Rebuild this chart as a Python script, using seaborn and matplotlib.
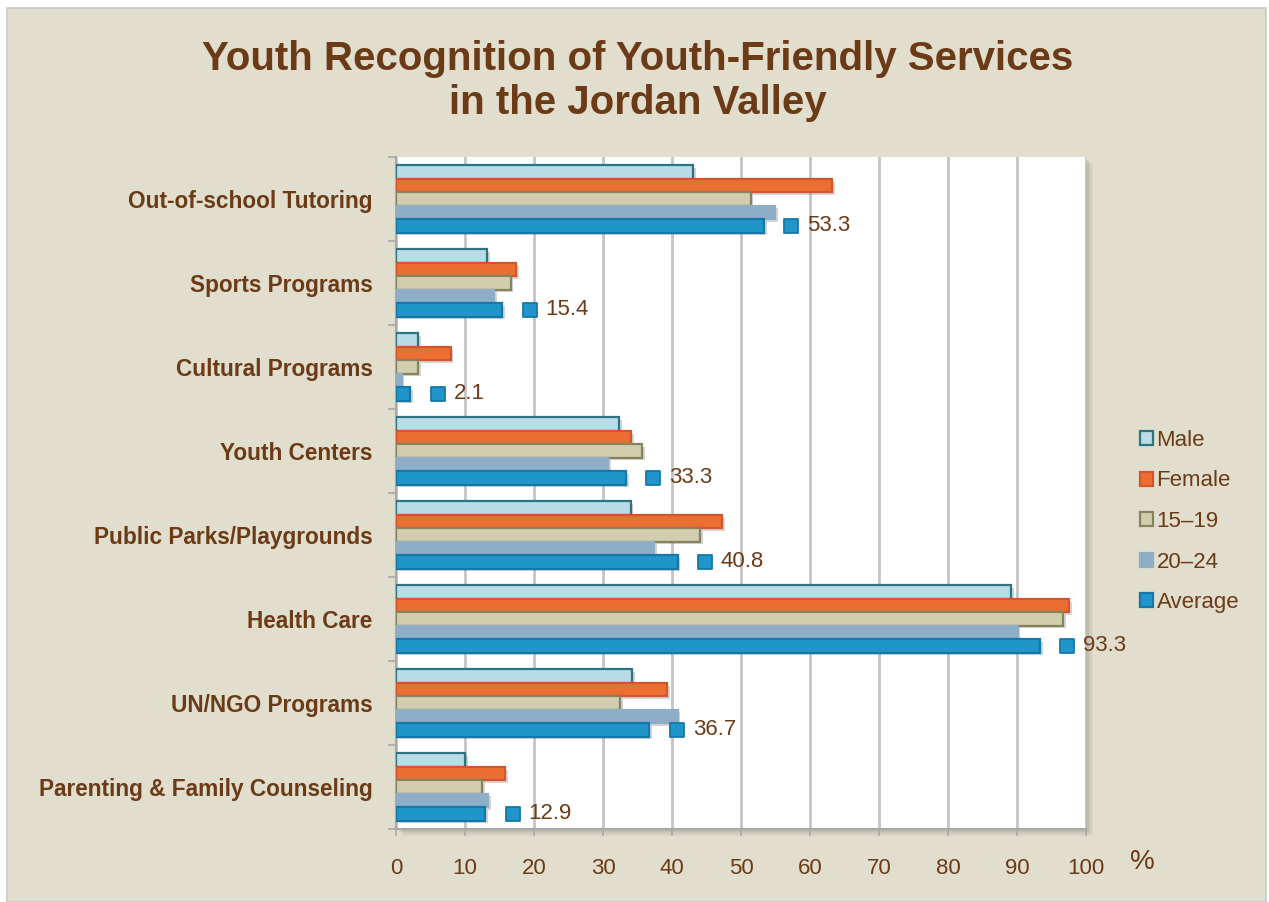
import numpy as np
import pandas as pd
import matplotlib
matplotlib.use("Agg")
import matplotlib.pyplot as plt
import matplotlib.patheffects as pe
from matplotlib.patches import Rectangle, Patch
import seaborn as sns

# ---- data ----
services = [
    "Out-of-school Tutoring",
    "Sports Programs",
    "Cultural Programs",
    "Youth Centers",
    "Public Parks/Playgrounds",
    "Health Care",
    "UN/NGO Programs",
    "Parenting & Family Counseling",
]
groups = ["Male", "Female", "15–19", "20–24", "Average"]
male = [43.1, 13.2, 3.2, 32.3, 34.0, 89.2, 34.2, 10.0]
female = [63.2, 17.4, 7.9, 34.1, 47.3, 97.5, 39.3, 15.8]
age_15_19 = [51.4, 16.6, 3.2, 35.7, 44.1, 96.7, 32.5, 12.5]
age_20_24 = [54.9, 14.2, 0.8, 30.7, 37.4, 90.1, 40.8, 13.3]
average = [53.3, 15.4, 2.1, 33.3, 40.8, 93.3, 36.7, 12.9]
x_ticks = [0, 10, 20, 30, 40, 50, 60, 70, 80, 90, 100]

# ---- style ----
BROWN = "#6B3A16"
BG = "#E1DECD"
fills = ["#B9DCE6", "#EB6E33", "#D1CDAF", "#8EADC7", "#1F95C9"]
edges = ["#2C7482", "#D4542B", "#85845C", "#8EADC7", "#1678A8"]

sns.set_theme(style="white")
plt.rcParams["font.family"] = ["Liberation Sans", "DejaVu Sans"]

df = pd.DataFrame({
    "service": np.repeat(services, len(groups)),
    "group": groups * len(services),
    "value": np.ravel(np.column_stack([male, female, age_15_19, age_20_24, average])),
})

W, H = 1269, 902
fig = plt.figure(figsize=(W / 100, H / 100), dpi=100, facecolor="white")

# beige panel
fig.patches.append(Rectangle((7 / W, 0), (1266 - 7) / W, (H - 8) / H,
                             transform=fig.transFigure, facecolor=BG,
                             edgecolor="#C9C9C9", lw=1.2, zorder=-3))

ax_l, ax_r, ax_t, ax_b = 396, 1086, 157, 829
ax = fig.add_axes([ax_l / W, 1 - ax_b / H, (ax_r - ax_l) / W, (ax_b - ax_t) / H])
ax.set_facecolor("white")

# soft shadow behind the plot area
for k, a in [(7, 0.06), (5, 0.08), (3, 0.12)]:
    fig.patches.append(Rectangle(((ax_l + k) / W, 1 - (ax_b + k) / H),
                                 (ax_r - ax_l) / W, (ax_b - ax_t) / H,
                                 transform=fig.transFigure, facecolor="#555555",
                                 edgecolor="none", alpha=a, zorder=-2))

sns.barplot(data=df, y="service", x="value", hue="group", order=services,
            hue_order=groups, orient="h", width=0.8, palette=fills,
            saturation=1, legend=False, ax=ax, zorder=3)

shadow = [pe.SimplePatchShadow(offset=(2, -2), shadow_rgbFace="#888888", alpha=0.35),
          pe.Normal()]
for cont, ec in zip(ax.containers, edges):
    for bar in cont:
        bar.set_edgecolor(ec)
        bar.set_linewidth(1.6)
        bar.set_path_effects(shadow)

# average markers with value labels
ypos = np.arange(len(services)) + 0.32
avg = np.array(average)
sns.scatterplot(x=avg + 4.0, y=ypos, marker="s", s=110, color=fills[4],
                edgecolor=edges[4], linewidth=1.3, ax=ax, zorder=5, legend=False)
for xv, yv in zip(avg, ypos):
    ax.text(xv + 6.3, yv, f"{xv:.1f}", color=BROWN, fontsize=16,
            va="center", ha="left", zorder=6)

ax.set_xlim(0, 100)
ax.set_ylim(len(services) - 0.5, -0.5)
ax.set_xticks(x_ticks)
ax.set_xticklabels([str(t) for t in x_ticks])
ax.set_xlabel("")
ax.set_ylabel("")

ax.grid(axis="x", color="#C4C4C4", lw=2, zorder=1)
ax.grid(axis="y", visible=False)
ax.set_axisbelow(True)

for s in ["top", "right"]:
    ax.spines[s].set_visible(False)
for s in ["left", "bottom"]:
    ax.spines[s].set_color("#A8A8A8")
    ax.spines[s].set_linewidth(1.5)

ax.tick_params(axis="x", colors="#A8A8A8", length=5, width=1.2, pad=16,
               labelcolor=BROWN, labelsize=16, direction="out", bottom=True)
ax.tick_params(axis="y", which="major", length=0, pad=17, labelcolor=BROWN,
               labelsize=16.3)
for lab in ax.get_yticklabels():
    lab.set_fontweight("bold")
ax.set_yticks(np.arange(-0.5, len(services), 1), minor=True)
ax.tick_params(axis="y", which="minor", left=True, length=6, width=1.2,
               color="#A8A8A8", direction="out")

fig.text(1142 / W, 1 - 862 / H, "%", color=BROWN, fontsize=20, ha="center", va="center")

fig.text(638 / W, 1 - 81 / H,
         "Youth Recognition of Youth-Friendly Services\nin the Jordan Valley",
         color=BROWN, fontsize=29, fontweight="bold", ha="center", va="center",
         linespacing=1.22)

handles = [Patch(facecolor=f, edgecolor=e, linewidth=1.6) for f, e in zip(fills, edges)]
fig.legend(handles, groups, loc="upper left",
           bbox_to_anchor=(1131 / W, 1 - 421 / H), frameon=False,
           fontsize=16, labelcolor=BROWN, handlelength=0.6, handleheight=0.6,
           handletextpad=0.15, labelspacing=0.88, borderaxespad=0)

fig.savefig("out.png", dpi=100, facecolor="white")
